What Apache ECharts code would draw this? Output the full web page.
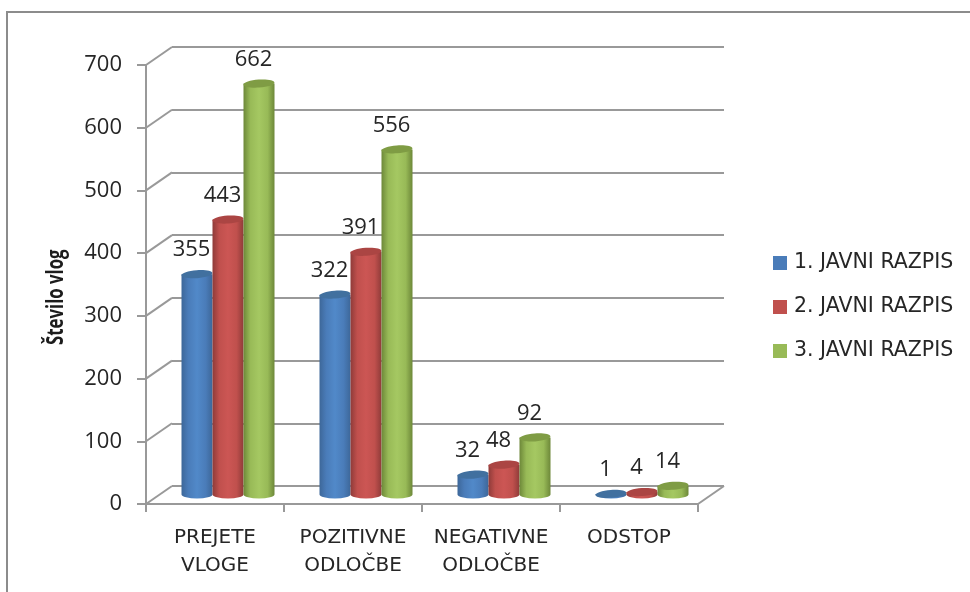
<!DOCTYPE html>
<html><head><meta charset="utf-8">
<style>html,body{margin:0;padding:0;background:#fff}#c{width:970px;height:592px}</style>
<script src="https://cdn.jsdelivr.net/npm/echarts@6/dist/echarts.min.js"></script>
</head><body><div id="c"></div>
<script>
const categories = ['PREJETE\nVLOGE', 'POZITIVNE\nODLOČBE', 'NEGATIVNE\nODLOČBE', 'ODSTOP'];
const seriesNames = ['1. JAVNI RAZPIS', '2. JAVNI RAZPIS', '3. JAVNI RAZPIS'];
const razpis1 = [355, 322, 32, 1];
const razpis2 = [443, 391, 48, 4];
const razpis3 = [662, 556, 92, 14];
const yTicks = [0, 100, 200, 300, 400, 500, 600, 700];

const FONT = 'DejaVu Sans';
const NUMFONT = 'Open Sans';
const TEXT = '#262626';
const LINE = '#999999';
const palette = [
  {edge:'#3d6799', mid:'#5189c9', top:'#41709f', main:'#4a7cb9'},
  {edge:'#8f3b39', mid:'#cc5654', top:'#ab4543', main:'#c0504d'},
  {edge:'#6d8839', mid:'#a5c862', top:'#7f9c44', main:'#98ba57'}
];
const BAR_W = 31, RY = 4;

function cylinder(idx) {
  return function (params, api) {
    const val = api.value(1);
    const base = api.coord([api.value(0), 0]);
    const top = api.coord([api.value(0), val]);
    const cx = base[0] + (idx - 1) * BAR_W;
    const l = cx - BAR_W / 2, r = cx + BAR_W / 2;
    const c = palette[idx];
    const grad = new echarts.graphic.LinearGradient(0, 0, 1, 0, [
      {offset: 0, color: c.edge}, {offset: 0.22, color: c.main},
      {offset: 0.5, color: c.mid}, {offset: 0.78, color: c.main},
      {offset: 1, color: c.edge}
    ]);
    const body = 'M' + l + ' ' + top[1] + 'L' + l + ' ' + base[1] +
      'A' + BAR_W / 2 + ' ' + RY + ' 0 0 0 ' + r + ' ' + base[1] +
      'L' + r + ' ' + top[1] + 'Z';
    return {type: 'group', children: [
      {type: 'path', shape: {pathData: body, x: l, y: top[1], width: r - l, height: base[1] - top[1] + RY, layout: 'cover'},
       style: {fill: grad}},
      {type: 'ellipse', shape: {cx: 0, cy: 0, rx: BAR_W / 2, ry: RY}, x: cx, y: top[1], rotation: 0.07, style: {fill: c.top}},
      {type: 'text', style: {text: String(val), x: cx - 5.5, y: top[1] - 24, align: 'center', verticalAlign: 'middle',
        font: '22px "' + NUMFONT + '"', fill: TEXT}}
    ]};
  };
}
function barSeries(idx, values) {
  return {type: 'custom', name: seriesNames[idx], xAxisIndex: 2, yAxisIndex: 2, clip: false,
    itemStyle: {color: palette[idx].main}, z: 5 + idx,
    encode: {x: 0, y: 1},
    renderItem: cylinder(idx), data: values.map((v, i) => [i, v])};
}
const DX = 26, DY = -18;
const depthLines = {type: 'custom', xAxisIndex: 0, yAxisIndex: 0, silent: true, clip: false, z: 1,
  data: yTicks.map(v => [0, v]),
  encode: {y: 1},
  renderItem(params, api) {
    const y = api.coord([0, api.value(1)])[1];
    const x = params.coordSys.x;
    const ln = (a) => ({type: 'line', shape: {x1: a, y1: y, x2: a + DX, y2: y + DY},
      style: {stroke: LINE, lineWidth: 2}});
    const ch = [ln(x)];
    if (api.value(1) === 0) ch.push(ln(x + params.coordSys.width));
    return {type: 'group', children: ch};
  }
};
const chart = echarts.init(document.getElementById('c'));
chart.setOption({
  animation: false,
  backgroundColor: '#fff',
  grid: [
    {left: 146, top: 65, width: 552, height: 439},
    {left: 172, top: 47, width: 552, height: 439},
    {left: 159, top: 60, width: 552, height: 434.5}
  ],
  graphic: [
    {type: 'polyline', silent: true, shape: {points: [[7, 592], [7, 12], [970, 12]]},
     style: {stroke: '#8c8c8c', lineWidth: 2, fill: null}},
    {type: 'text', x: 45, y: 345, rotation: Math.PI / 2, scaleX: 0.73, scaleY: 1,
     style: {text: 'Število vlog', font: 'bold 23px "Open Sans"', fill: '#1c1c1c'}}
  ],
  legend: {orient: 'vertical', left: 773, top: 251, padding: 0, itemWidth: 14, itemHeight: 14, itemGap: 20,
    icon: 'rect', data: seriesNames,
    textStyle: {fontFamily: FONT, fontSize: 20.5, color: TEXT, padding: [0, 0, 0, 2], lineHeight: 24}},
  xAxis: [
    {type: 'category', gridIndex: 0, data: categories,
     axisLine: {show: true, lineStyle: {color: LINE, width: 2}},
     axisTick: {show: true, length: 8, lineStyle: {color: LINE, width: 2}},
     axisLabel: {margin: 20, fontFamily: FONT, fontSize: 20, lineHeight: 28, color: TEXT, interval: 0},
     splitLine: {show: false}},
    {type: 'category', gridIndex: 1, data: categories, show: false},
    {type: 'category', gridIndex: 2, data: categories, show: false}
  ],
  yAxis: [
    {type: 'value', gridIndex: 0, min: 0, max: 700, interval: 100,
     axisLine: {show: true, lineStyle: {color: LINE, width: 2}},
     axisTick: {show: true, length: 9, lineStyle: {color: LINE, width: 2}},
     axisLabel: {margin: 24, fontFamily: NUMFONT, fontSize: 22, color: TEXT},
     splitLine: {show: false}},
    {type: 'value', gridIndex: 1, min: 0, max: 700, interval: 100,
     axisLine: {show: false}, axisTick: {show: false}, axisLabel: {show: false},
     splitLine: {show: true, lineStyle: {color: LINE, width: 2, type: 'solid'}}},
    {type: 'value', gridIndex: 2, min: 0, max: 700, interval: 100, show: false, splitLine: {show: false}}
  ],
  series: [depthLines, barSeries(0, razpis1), barSeries(1, razpis2), barSeries(2, razpis3)]
});
</script></body></html>
